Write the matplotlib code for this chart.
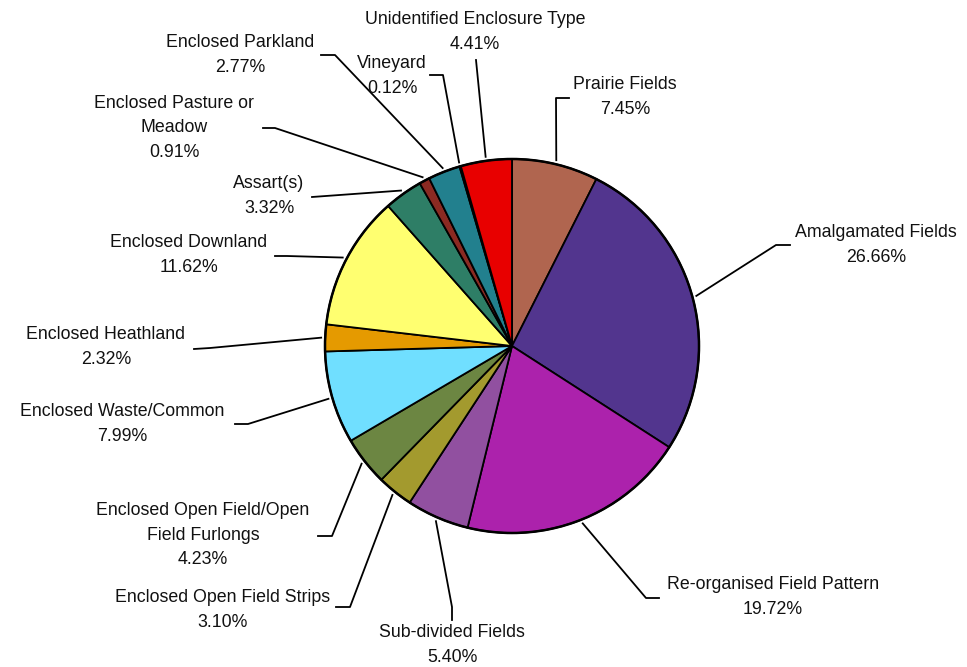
import numpy as np
import matplotlib.pyplot as plt

plt.rcParams['font.family'] = ['Liberation Sans', 'DejaVu Sans']

# Enclosure types, clockwise from 12 o'clock
labels = ['Prairie Fields', 'Amalgamated Fields', 'Re-organised Field Pattern',
          'Sub-divided Fields', 'Enclosed Open Field Strips',
          'Enclosed Open Field/Open\nField Furlongs', 'Enclosed Waste/Common',
          'Enclosed Heathland', 'Enclosed Downland', 'Assart(s)',
          'Enclosed Pasture or\nMeadow', 'Enclosed Parkland', 'Vineyard',
          'Unidentified Enclosure Type']
shares = [7.45, 26.66, 19.72, 5.40, 3.10, 4.23, 7.99, 2.32, 11.62, 3.32,
          0.91, 2.77, 0.12, 4.41]
colors = ['#B0654F', '#52358E', '#AC22AC', '#9150A0', '#A39A2E', '#6C8642',
          '#70DFFF', '#E59A00', '#FFFF70', '#2E7E66', '#8B2A22', '#22808E',
          '#5A3F8F', '#E80000']

# layout (pixel coords, y down): label centre and leader elbow points
label_pos = [(625, 97), (876, 245), (773, 597), (452, 645), (223, 610),
             (203, 535), (122, 424), (106, 347), (189, 255), (269, 196),
             (174, 128), (240, 55), (392, 76), (475, 32)]
elbows = [[(569, 98), (556, 98)], [(790, 245), (776, 245)],
          [(659, 598), (646, 598)], [(452, 620), (452, 607)],
          [(336, 607), (350, 607)], [(318, 536), (332, 536)],
          [(235, 424), (248, 424)], [(194, 349), (210, 348)],
          [(275, 256), (287, 256)], [(312, 197)],
          [(263, 128), (275, 128)], [(321, 55), (335, 55)],
          [(430, 75), (443, 75)], [(476, 60)]]

W, H = 967, 667
cx, cy, R = 512, 346, 187

fig = plt.figure(figsize=(W / 100, H / 100), dpi=100)
ax = fig.add_axes([0, 0, 1, 1])
ax.axis('off')

# y axis is inverted below, so counterclock=True draws clockwise on screen
wedges, _ = ax.pie(shares, colors=colors, startangle=-90, counterclock=True,
                   center=(cx, cy), radius=R, normalize=True,
                   wedgeprops=dict(edgecolor='black', linewidth=1.3))
ax.set_xlim(0, W)
ax.set_ylim(H, 0)
ax.set_aspect('equal')

# heavier outer rim
ax.add_patch(plt.Circle((cx, cy), R, fill=False, edgecolor='black', lw=1.8))

for w, lab, val, pos, elb in zip(wedges, labels, shares, label_pos, elbows):
    mid = np.deg2rad((w.theta1 + w.theta2) / 2)
    px = cx + (R + 4) * np.cos(mid)
    py = cy + (R + 4) * np.sin(mid)
    pts = elb + [(px, py)]
    ax.plot([p[0] for p in pts], [p[1] for p in pts], color='black', lw=1.3)
    ax.text(pos[0], pos[1], f'{lab}\n{val:.2f}%', ha='center', va='center',
            multialignment='center', fontsize=12.8, linespacing=1.6,
            color='#111111')

fig.savefig('out.png', dpi=100)
